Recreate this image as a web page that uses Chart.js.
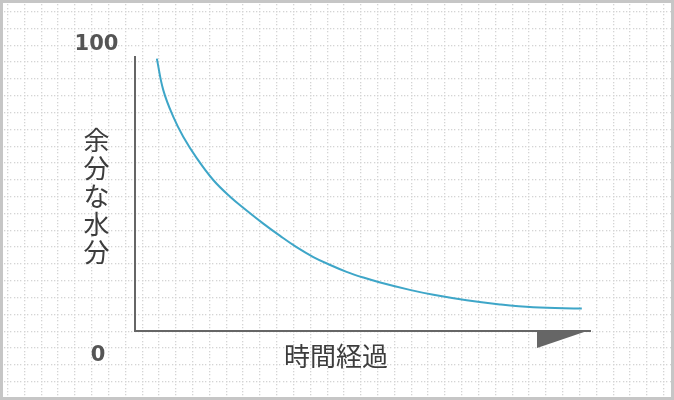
<!DOCTYPE html>
<html><head><meta charset="utf-8">
<script src="https://cdn.jsdelivr.net/npm/chart.js@4"></script>
<style>
html,body{margin:0;padding:0;background:#fff;}
#wrap{position:relative;width:674px;height:400px;overflow:hidden;}
#frame{position:absolute;left:0;top:0;right:0;bottom:0;border:3px solid #c6c6c6;box-sizing:border-box;pointer-events:none;}
#c{position:absolute;left:0;top:0;}
</style></head><body>
<div id="wrap"><canvas id="c" width="674" height="400"></canvas><div id="frame"></div></div>
<script>
// ---- data ----
const timeValues  = [4.8, 6.2, 8.4, 10.6, 13.6, 17.2, 20.9, 24.6, 28.2, 31.9, 35.5, 39.2, 42.9, 46.5, 50.2, 53.9, 60.4, 65.6, 72.9, 80.2, 87.5, 98.2];
const waterValues = [99.4, 88.0, 78.2, 70.9, 63.0, 55.1, 49.0, 43.9, 39.2, 34.7, 30.6, 27.0, 24.1, 21.6, 19.5, 17.7, 15.0, 13.2, 11.2, 9.7, 8.7, 8.2];
const yTickLabels = ['0', '100'];
const yTickValues = [0, 100];
const xTitle = '時間経過';
const yTitle = '余分な水分';

const points = timeValues.map((t, i) => ({x: t, y: waterValues[i]}));

const gridPlugin = {
  id: 'dotGrid',
  beforeDraw(chart) {
    const ctx = chart.ctx, W = chart.width, H = chart.height;
    const step = 16.82, dot = step / 5;
    ctx.save();
    ctx.fillStyle = '#ffffff';
    ctx.fillRect(0, 0, W, H);
    ctx.fillStyle = '#d4d4d4';
    for (let y = 11; y < H; y += step) {
      for (let x = 7; x < W; x += dot) ctx.fillRect(Math.round(x), Math.round(y), 1.3, 1.3);
      for (let x = 7 - dot; x > 0; x -= dot) ctx.fillRect(Math.round(x), Math.round(y), 1.3, 1.3);
    }
    for (let x = 7; x < W; x += step) {
      for (let y = 11; y < H; y += dot) ctx.fillRect(Math.round(x), Math.round(y), 1.3, 1.3);
      for (let y = 11 - dot; y > 0; y -= dot) ctx.fillRect(Math.round(x), Math.round(y), 1.3, 1.3);
    }
    ctx.restore();
  }
};

const labelPlugin = {
  id: 'labels',
  afterDraw(chart) {
    const ctx = chart.ctx, area = chart.chartArea, xs = chart.scales.x, ys = chart.scales.y;
    ctx.save();
    // arrow head on x axis
    const base = area.right - 53, yb = ys.getPixelForValue(0);
    ctx.fillStyle = '#666666';
    ctx.beginPath();
    ctx.moveTo(base, yb - 1);
    ctx.lineTo(area.right, yb - 1);
    ctx.lineTo(base, yb + 17);
    ctx.closePath();
    ctx.fill();
    // y tick labels
    const lx = area.left - 38.5;
    ctx.fillStyle = '#555555';
    ctx.textAlign = 'center';
    ctx.textBaseline = 'middle';
    ctx.font = 'bold 21px "DejaVu Sans"';
    ctx.fillText(yTickLabels[1], lx, ys.getPixelForValue(yTickValues[1]) - 12.5);
    ctx.fillText(yTickLabels[0], lx + 1.5, ys.getPixelForValue(yTickValues[0]) + 25);
    // titles
    ctx.fillStyle = '#3c3c3c';
    ctx.font = '26px "Noto Sans CJK JP"';
    const xc = (xs.getPixelForValue(0) + base) / 2;
    ctx.fillText(xTitle, xc, yb + 25);
    const chars = Array.from(yTitle);
    const pitch = 28;
    const ymid = (ys.getPixelForValue(0) + ys.getPixelForValue(100)) / 2 + 2;
    chars.forEach((ch, i) => {
      ctx.fillText(ch, lx, ymid + (i - (chars.length - 1) / 2) * pitch);
    });
    ctx.restore();
  }
};

new Chart(document.getElementById('c'), {
  type: 'line',
  data: {
    datasets: [{
      data: points,
      borderColor: '#3ea6c8',
      borderWidth: 2,
      pointRadius: 0,
      fill: false,
      tension: 0.4,
      clip: false
    }]
  },
  options: {
    responsive: false,
    animation: false,
    devicePixelRatio: 1,
    layout: {padding: {left: 135, right: 84, top: 57, bottom: 69}},
    plugins: {legend: {display: false}, tooltip: {enabled: false}},
    scales: {
      x: {
        type: 'linear', min: 0, max: 100,
        grid: {display: false, drawTicks: false},
        ticks: {display: false, padding: 0},
        border: {display: true, color: '#666666', width: 2},
        afterFit(s) { s.height = 0; s.paddingLeft = 0; s.paddingRight = 0; }
      },
      y: {
        type: 'linear', min: 0, max: 100,
        grid: {display: false, drawTicks: false},
        ticks: {display: false, padding: 0},
        border: {display: true, color: '#666666', width: 2},
        afterFit(s) { s.width = 0; s.paddingTop = 0; s.paddingBottom = 0; }
      }
    }
  },
  plugins: [gridPlugin, labelPlugin]
});
</script>
</body></html>
